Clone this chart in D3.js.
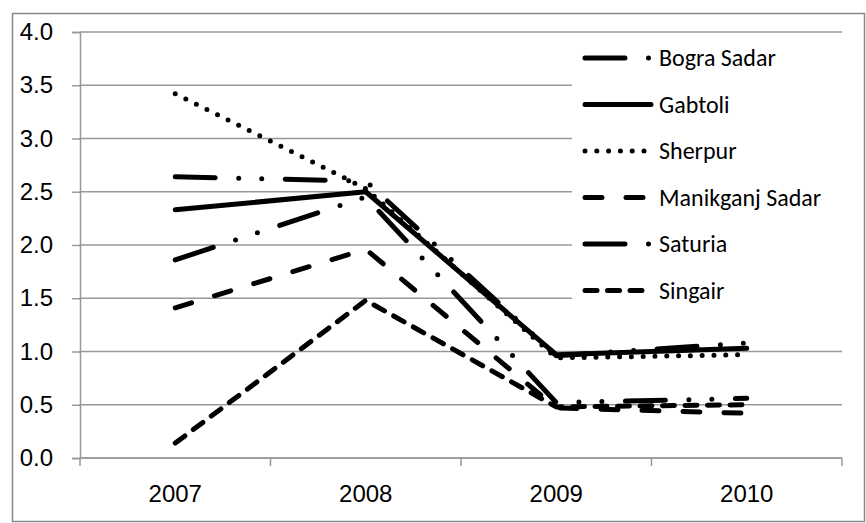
<!DOCTYPE html>
<html>
<head>
<meta charset="utf-8">
<script src="https://cdn.jsdelivr.net/npm/d3@7"></script>
<style>
  body { margin: 0; background: #fff; }
  svg { display: block; font-family: Carlito, Lato, "Noto Sans", sans-serif; }
</style>
</head>
<body>
<div id="chart"></div>
<script>
// values
var years = ["2007", "2008", "2009", "2010"];
var seriesNames = ["Bogra Sadar", "Gabtoli", "Sherpur", "Manikganj Sadar", "Saturia", "Singair"];
var bograSadar = [2.64, 2.60, 0.96, 1.08];
var gabtoli = [2.33, 2.50, 0.97, 1.03];
var sherpur = [3.42, 2.53, 0.94, 0.97];
var manikganjSadar = [1.41, 1.96, 0.47, 0.42];
var saturia = [1.86, 2.45, 0.52, 0.56];
var singair = [0.14, 1.48, 0.48, 0.50];
var yTicks = [0, 0.5, 1, 1.5, 2, 2.5, 3, 3.5, 4];

var seriesValues = [bograSadar, gabtoli, sherpur, manikganjSadar, saturia, singair];
// dash look per series (stroke is 5px, round caps)
var dashes = ["40 23.5 0 23 0 23.5", null, "0 11.8", "17 24", "40 23.5 0 23 0 23.5", "12 10.5"];

var width = 866, height = 523;
var margin = { top: 32, right: 24, bottom: 65, left: 80 };
var fontSize = "24px";

var svg = d3.select("#chart").append("svg")
    .attr("width", width)
    .attr("height", height);

// outer chart border
svg.append("rect")
    .attr("x", 12.5).attr("y", 13.5)
    .attr("width", 852).attr("height", 508)
    .attr("fill", "#fff")
    .attr("stroke", "#888")
    .attr("stroke-width", 1.5);

var x = d3.scaleBand()
    .domain(years)
    .range([margin.left, width - margin.right]);

var y = d3.scaleLinear()
    .domain([0, 4])
    .range([height - margin.bottom, margin.top]);

var xMid = function (d) { return x(d) + x.bandwidth() / 2; };

// gridlines
svg.append("g")
    .selectAll("line")
    .data(yTicks)
    .join("line")
    .attr("x1", margin.left).attr("x2", width - margin.right)
    .attr("y1", d => y(d)).attr("y2", d => y(d))
    .attr("stroke", "#999")
    .attr("stroke-width", 1.5);

// y axis
var yAxis = svg.append("g")
    .attr("transform", "translate(" + margin.left + ",0)")
    .call(d3.axisLeft(y).tickValues(yTicks).tickFormat(d3.format(".1f")).tickSize(8).tickPadding(19));
yAxis.select(".domain").attr("stroke", "#999").attr("stroke-width", 1.5);
yAxis.selectAll(".tick line").attr("stroke", "#999").attr("stroke-width", 1.5);
yAxis.selectAll(".tick text").attr("fill", "#000").style("font-size", fontSize);

// x axis
var xAxis = svg.append("g")
    .attr("transform", "translate(0," + y(0) + ")")
    .call(d3.axisBottom(x).tickSize(0));
xAxis.select(".domain").remove();
xAxis.selectAll(".tick text")
    .attr("y", 44).attr("dy", 0)
    .attr("fill", "#000")
    .style("font-size", fontSize);

var edges = years.map(d => x(d)).concat([x(years[years.length - 1]) + x.bandwidth()]);
svg.append("line")
    .attr("x1", margin.left).attr("x2", width - margin.right)
    .attr("y1", y(0)).attr("y2", y(0))
    .attr("stroke", "#999").attr("stroke-width", 1.5);
svg.append("g")
    .selectAll("line")
    .data(edges)
    .join("line")
    .attr("x1", d => d).attr("x2", d => d)
    .attr("y1", y(0)).attr("y2", y(0) + 8)
    .attr("stroke", "#999").attr("stroke-width", 1.5);

// series lines
var line = d3.line()
    .x((d, i) => xMid(years[i]))
    .y(d => y(d));

svg.append("g")
    .selectAll("path")
    .data(seriesValues)
    .join("path")
    .attr("d", d => line(d))
    .attr("fill", "none")
    .attr("stroke", "#000")
    .attr("stroke-width", 5)
    .attr("stroke-linecap", "round")
    .attr("stroke-linejoin", "round")
    .attr("stroke-dasharray", (d, i) => dashes[i]);

// legend (white box over the plot)
var legendX = 572, legendY = 36, rowH = 46.5;
var legend = svg.append("g");
legend.append("rect")
    .attr("x", legendX).attr("y", legendY)
    .attr("width", width - margin.right - legendX)
    .attr("height", 278)
    .attr("fill", "#fff");

var rows = legend.selectAll("g.row")
    .data(seriesNames)
    .join("g")
    .attr("class", "row")
    .attr("transform", (d, i) => "translate(0," + (legendY + 22 + i * rowH) + ")");

rows.append("line")
    .attr("x1", 585).attr("x2", 651)
    .attr("stroke", "#000")
    .attr("stroke-width", 5)
    .attr("stroke-linecap", "round")
    .attr("stroke-dasharray", (d, i) => dashes[i]);

rows.append("text")
    .attr("x", 659)
    .attr("dy", "0.35em")
    .style("font-size", fontSize)
    .attr("fill", "#000")
    .text(d => d);
</script>
</body>
</html>
